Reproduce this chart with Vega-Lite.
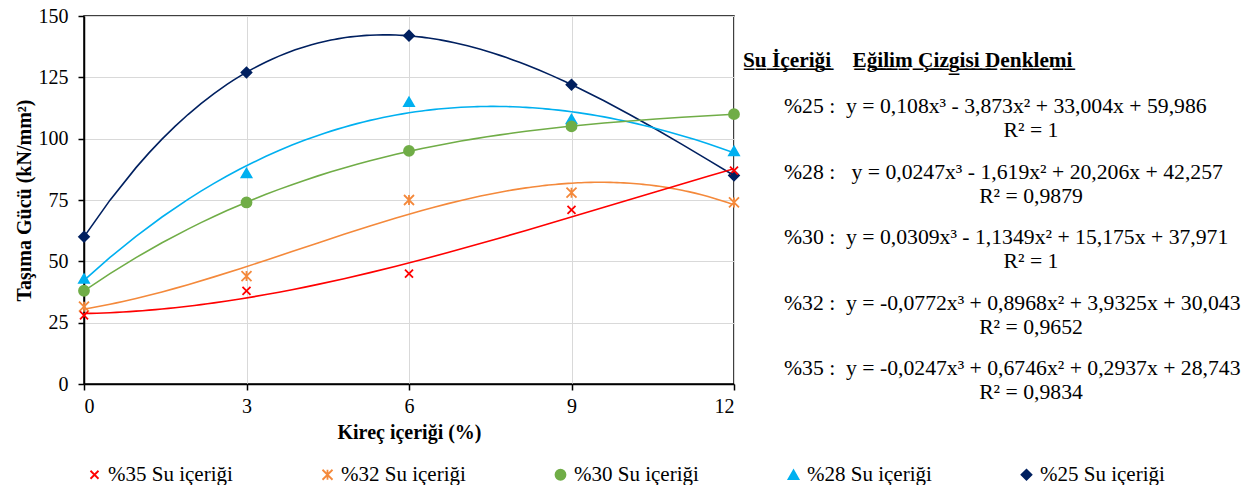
{
  "$schema": "https://vega.github.io/schema/vega-lite/v6.json",
  "background": "white",
  "padding": {"left": 13, "top": 5, "right": 0, "bottom": 0},
  "spacing": 5,
  "bounds": "flush",
  "config": {
    "font": "Liberation Serif",
    "view": {"stroke": "black", "strokeWidth": 1.5},
    "axis": {
      "labelFont": "Liberation Serif", "labelFontSize": 20, "labelColor": "black",
      "titleFont": "Liberation Serif", "titleFontSize": 20, "titleFontWeight": "bold", "titleColor": "black",
      "domainColor": "black", "domainWidth": 1.5, "tickColor": "black", "tickWidth": 1.5, "tickSize": 6,
      "gridColor": "#d9d9d9", "gridWidth": 1
    },
    "legend": {
      "labelFont": "Liberation Serif", "labelFontSize": 21, "labelColor": "black",
      "symbolSize": 100, "symbolStrokeWidth": 1.8, "labelOffset": 3, "offset": 21,
      "orient": "bottom", "direction": "horizontal", "columns": 5, "columnPadding": 84, "title": null, "gridAlign": "all"
    }
  },
  "hconcat": [
    {
      "width": 650,
      "height": 368,
      "data": {
        "values": [
          {"series": "%25 Su içeriği", "x": 0, "y": 60},
          {"series": "%25 Su içeriği", "x": 3, "y": 127},
          {"series": "%25 Su içeriği", "x": 6, "y": 142},
          {"series": "%25 Su içeriği", "x": 9, "y": 122},
          {"series": "%25 Su içeriği", "x": 12, "y": 85},
          {"series": "%28 Su içeriği", "x": 0, "y": 43},
          {"series": "%28 Su içeriği", "x": 3, "y": 86},
          {"series": "%28 Su içeriği", "x": 6, "y": 115},
          {"series": "%28 Su içeriği", "x": 9, "y": 108},
          {"series": "%28 Su içeriği", "x": 12, "y": 95},
          {"series": "%30 Su içeriği", "x": 0, "y": 38},
          {"series": "%30 Su içeriği", "x": 3, "y": 74},
          {"series": "%30 Su içeriği", "x": 6, "y": 95},
          {"series": "%30 Su içeriği", "x": 9, "y": 105},
          {"series": "%30 Su içeriği", "x": 12, "y": 110},
          {"series": "%32 Su içeriği", "x": 0, "y": 31.5},
          {"series": "%32 Su içeriği", "x": 3, "y": 44},
          {"series": "%32 Su içeriği", "x": 6, "y": 75},
          {"series": "%32 Su içeriği", "x": 9, "y": 78},
          {"series": "%32 Su içeriği", "x": 12, "y": 74},
          {"series": "%35 Su içeriği", "x": 0, "y": 28},
          {"series": "%35 Su içeriği", "x": 3, "y": 38},
          {"series": "%35 Su içeriği", "x": 6, "y": 45},
          {"series": "%35 Su içeriği", "x": 9, "y": 71},
          {"series": "%35 Su içeriği", "x": 12, "y": 87}
        ]
      },
      "encoding": {
        "x": {"field": "x", "type": "quantitative", "scale": {"domain": [0, 12], "nice": false},
              "axis": {"title": "Kireç içeriği (%)", "values": [0, 3, 6, 9, 12], "format": "d", "labelPadding": 6, "titlePadding": 6}},
        "y": {"field": "y", "type": "quantitative", "scale": {"domain": [0, 150], "nice": false},
              "axis": {"title": "Taşıma Gücü (kN/mm²)", "values": [0, 25, 50, 75, 100, 125, 150], "format": "d", "labelPadding": 10, "titlePadding": 4}},
        "stroke": {"field": "series", "type": "nominal",
                   "scale": {"domain": ["%35 Su içeriği", "%32 Su içeriği", "%30 Su içeriği", "%28 Su içeriği", "%25 Su içeriği"],
                             "range": ["#ff0000", "#f4893b", "#70ad47", "#00b0f0", "#002060"]}}
      },
      "layer": [
        {
          "mark": {"type": "point", "filled": true, "size": 100, "strokeWidth": 1.8, "opacity": 1},
          "encoding": {
            "fill": {"field": "series", "type": "nominal",
                     "scale": {"domain": ["%35 Su içeriği", "%32 Su içeriği", "%30 Su içeriği", "%28 Su içeriği", "%25 Su içeriği"],
                               "range": ["#ff0000", "#f4893b", "#70ad47", "#00b0f0", "#002060"]}},
            "shape": {"field": "series", "type": "nominal",
                      "scale": {"domain": ["%35 Su içeriği", "%32 Su içeriği", "%30 Su içeriği", "%28 Su içeriği", "%25 Su içeriği"],
                                "range": ["M-0.8,-0.8L0.8,0.8M0.8,-0.8L-0.8,0.8", "M-1,-1L1,1M1,-1L-1,1M0,-1L0,1", "circle", "triangle-up", "diamond"]}}
          }
        },
        {
          "transform": [
            {"regression": "y", "on": "x", "groupby": ["series"], "method": "poly", "order": 3, "extent": [0, 12]}
          ],
          "mark": {"type": "line", "strokeWidth": 1.6, "clip": true}
        }
      ]
    },
    {
      "width": 512,
      "height": 368,
      "view": {"stroke": null},
      "layer": [
        {
          "data": {"values": [{"row": "h", "t": "S\u0332u\u0332 \u0332İ\u0332ç\u0332e\u0332r\u0332i\u0332ğ\u0332i\u0332\u00a0\u00a0\u00a0\u00a0E\u0332ğ\u0332i\u0332l\u0332i\u0332m\u0332 \u0332Ç\u0332i\u0332z\u0332g\u0332i\u0332s\u0332i\u0332 \u0332D\u0332e\u0332n\u0332k\u0332l\u0332e\u0332m\u0332i\u0332"}]},
          "mark": {"type": "text", "align": "left", "baseline": "middle", "fontWeight": "bold", "fontSize": 21.3, "font": "Liberation Serif", "color": "black", "dy": 20.5},
          "encoding": {
            "x": {"datum": "L", "type": "nominal", "scale": {"type": "point", "domain": ["L", "R"], "range": [4, 292], "padding": 0}, "axis": null},
            "y": {"field": "row", "type": "nominal", "scale": {"type": "point", "domain": ["h", "%25", "%28", "%30", "%32", "%35"], "range": [24.5, 352], "padding": 0}, "axis": null},
            "text": {"field": "t"}
          }
        },
        {
          "data": {"values": [
            {"row": "%25", "eq": "%25 :\u00a0\u00a0y = 0,108x³ - 3,873x² + 33,004x + 59,986", "r2": "R² = 1"},
            {"row": "%28", "eq": "%28 :\u00a0\u00a0\u00a0y = 0,0247x³ - 1,619x² + 20,206x + 42,257", "r2": "R² = 0,9879"},
            {"row": "%30", "eq": "%30 :\u00a0\u00a0y = 0,0309x³ - 1,1349x² + 15,175x + 37,971", "r2": "R² = 1"},
            {"row": "%32", "eq": "\u2003%32 :\u00a0\u00a0y = -0,0772x³ + 0,8968x² + 3,9325x + 30,043", "r2": "R² = 0,9652"},
            {"row": "%35", "eq": "\u2003%35 :\u00a0\u00a0y = -0,0247x³ + 0,6746x² + 0,2937x + 28,743", "r2": "R² = 0,9834"}
          ]},
          "layer": [
            {
              "mark": {"type": "text", "align": "left", "baseline": "middle", "fontSize": 21.7, "font": "Liberation Serif", "color": "black", "dx": 41},
              "encoding": {
                "x": {"datum": "L", "type": "nominal"},
                "y": {"field": "row", "type": "nominal"},
                "text": {"field": "eq"}
              }
            },
            {
              "mark": {"type": "text", "align": "center", "baseline": "middle", "fontSize": 21.7, "font": "Liberation Serif", "color": "black", "dy": 24},
              "encoding": {
                "x": {"datum": "R", "type": "nominal"},
                "y": {"field": "row", "type": "nominal"},
                "text": {"field": "r2"}
              }
            }
          ]
        }
      ]
    }
  ]
}
